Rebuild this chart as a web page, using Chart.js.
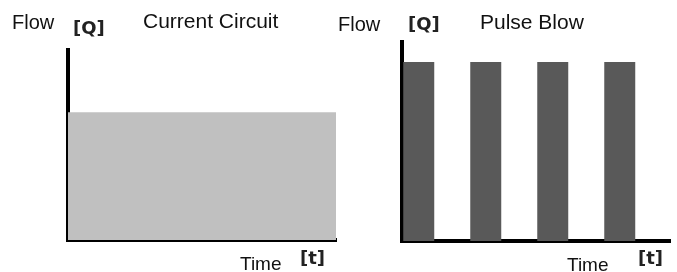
<!DOCTYPE html>
<html>
<head>
<meta charset="utf-8">
<script src="https://cdn.jsdelivr.net/npm/chart.js@4.4.1/dist/chart.umd.min.js"></script>
<style>
  body { margin: 0; background: #fff; }
  #wrap { position: relative; width: 677px; height: 272px; overflow: hidden; }
  .panel { position: absolute; top: 0; height: 272px; }
  .lbl { position: absolute; font-family: "Liberation Sans", Arial, sans-serif; font-size: 20px; line-height: 20px; color: #111; white-space: nowrap; }
  .ttl { font-size: 21px; line-height: 21px; }
  .tm { font-size: 19px; line-height: 19px; }
  .unit { position: absolute; font-family: "DejaVu Sans", sans-serif; font-weight: bold; font-size: 18px; line-height: 18px; color: #222; white-space: nowrap; }
</style>
</head>
<body>
<div id="wrap">
  <div class="panel" style="left:0; width:340px;"><canvas id="graph1" width="340" height="272"></canvas></div>
  <div class="panel" style="left:340px; width:337px;"><canvas id="graph2" width="337" height="272"></canvas></div>

  <span class="lbl" style="left:12px; top:12px;">Flow</span>
  <span class="unit" style="left:73px; top:19px;">[Q]</span>
  <span class="lbl ttl" style="left:143px; top:10px;">Current Circuit</span>
  <span class="lbl tm" style="left:240px; top:254px;">Time</span>
  <span class="unit" style="left:300px; top:249px;">[t]</span>

  <span class="lbl" style="left:338px; top:14px;">Flow</span>
  <span class="unit" style="left:408px; top:15px;">[Q]</span>
  <span class="lbl ttl" style="left:480px; top:11px;">Pulse Blow</span>
  <span class="lbl tm" style="left:567px; top:255px;">Time</span>
  <span class="unit" style="left:638px; top:249px;">[t]</span>
</div>
<script>
// current circuit: one constant flow across the whole time span
var currentLabels = [""];
var currentFlow = [67];

// pulse blow: pulses (on) alternating with pauses (off)
var pulseLabels = ["p1", "", "p2", "", "p3", "", "p4", ""];
var pulseFlow = [90, 0, 90, 0, 90, 0, 90, 0];

var flowMax = 100;

function axes() {
    return {
        x: {
            ticks: { display: false },
            grid: { display: false, drawTicks: false },
            border: { display: true, color: "#000", width: 4 }
        },
        y: {
            min: 0,
            max: flowMax,
            ticks: { display: false },
            grid: { display: false, drawTicks: false },
            border: { display: true, color: "#000", width: 4 }
        }
    };
}

const g1 = new Chart("graph1", {
    type: "bar",
    data: {
        labels: currentLabels,
        datasets: [{
            label: "Current Circuit",
            backgroundColor: "rgb(192,192,192)",
            data: currentFlow,
            barPercentage: 1.0,
            categoryPercentage: 1.0
        }]
    },
    options: {
        responsive: false,
        animation: false,
        layout: { padding: { left: 68, top: 50, right: 4, bottom: 32 } },
        plugins: { legend: { display: false }, tooltip: { enabled: false } },
        scales: axes()
    }
});

const g2 = new Chart("graph2", {
    type: "bar",
    data: {
        labels: pulseLabels,
        datasets: [{
            label: "Pulse Blow",
            backgroundColor: "rgb(89,89,89)",
            data: pulseFlow,
            barPercentage: 1.0,
            categoryPercentage: 0.925
        }]
    },
    options: {
        responsive: false,
        animation: false,
        layout: { padding: { left: 62, top: 42, right: 7, bottom: 31 } },
        plugins: { legend: { display: false }, tooltip: { enabled: false } },
        scales: axes()
    }
});
</script>
</body>
</html>
